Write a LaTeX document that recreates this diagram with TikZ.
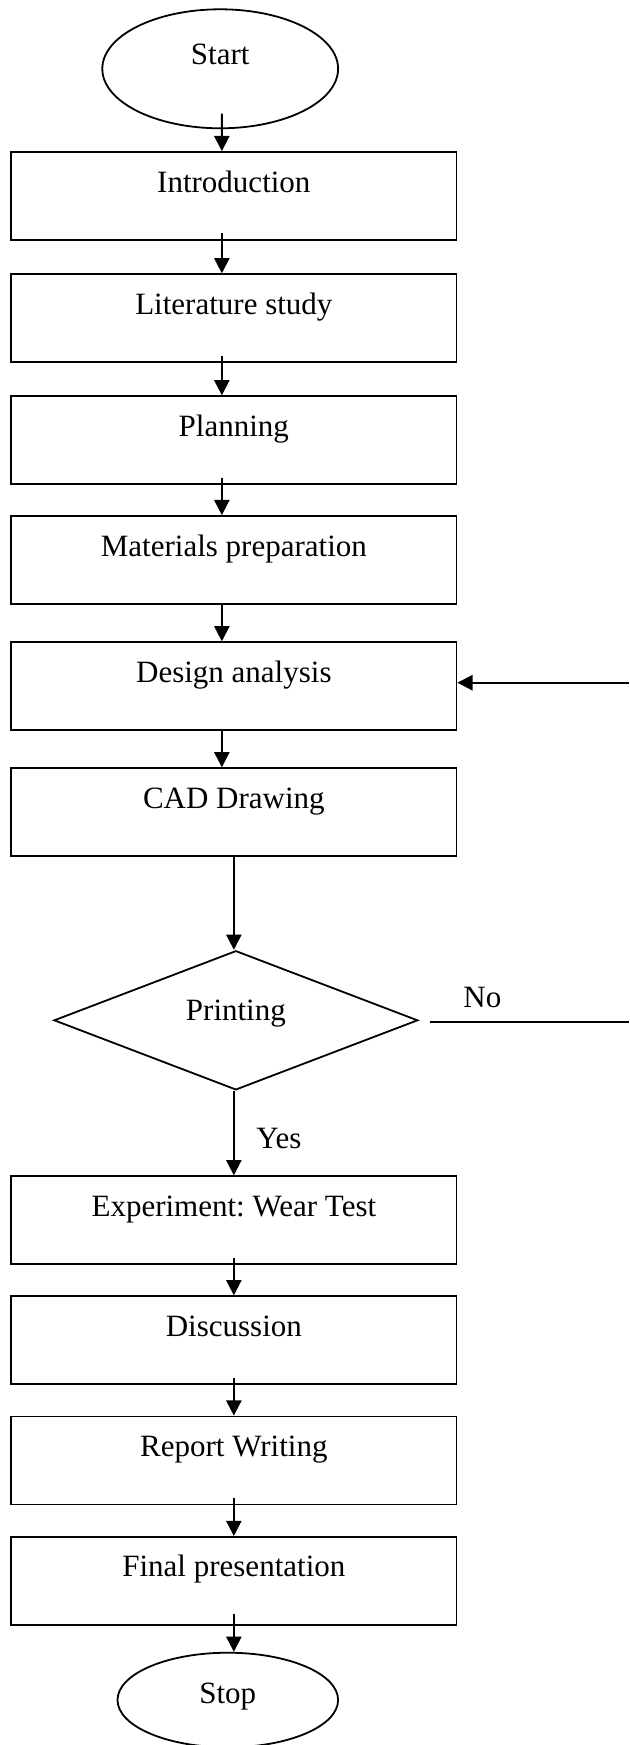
\documentclass[tikz,border=0pt]{standalone}
\usepackage{fontspec}
\setmainfont{Liberation Serif}
\usetikzlibrary{shapes.geometric,arrows.meta}
\frenchspacing

\tikzset{
  stepbox/.style={draw,line width=0.9pt,minimum width=222.6pt,minimum height=44pt,
    inner sep=0pt,text height=11pt,text depth=15pt},
  endbox/.style={draw,ellipse,line width=0.9pt,inner sep=0pt,text height=11pt},
  askbox/.style={draw,diamond,aspect=2.6,line width=0.9pt,inner sep=0pt,
    minimum width=181.9pt,minimum height=69.6pt,text height=11pt,text depth=11pt},
  arr/.style={line width=1pt,-{Triangle[width=7.6pt,length=7.6pt]}},
}

\begin{document}
\begin{tikzpicture}[x=0.5pt,y=-0.5pt,font=\fontsize{15.5}{18}\selectfont]
\useasboundingbox (0,0) rectangle (629,1745);
\def\bx{233.85} % centre of the boxes
\def\ax{-6pt}   % upper arrows sit left of centre
\def\ins{3.8pt} % arrows start inside the box

% upper part
\node[endbox,minimum width=117.9pt,minimum height=59.5pt,text depth=15.8pt] (start) at (220.2,68.8) {Start};
\node[stepbox] (intro) at (\bx,196) {Introduction};
\node[stepbox] (lit) at (\bx,318.2) {Literature study};
\node[stepbox] (plan) at (\bx,440.2) {Planning};
\node[stepbox] (mat) at (\bx,560) {Materials preparation};
\node[stepbox] (design) at (\bx,686.2) {Design analysis};
\node[stepbox] (cad) at (\bx,812.2) {CAD Drawing};

\draw[arr] ([xshift=0.8pt,yshift=7.8pt]start.south) -- ([xshift=\ax]intro.north);
\draw[arr] ([xshift=\ax,yshift=\ins]intro.south) -- ([xshift=\ax]lit.north);
\draw[arr] ([xshift=\ax,yshift=\ins]lit.south) -- ([xshift=\ax]plan.north);
\draw[arr] ([xshift=\ax,yshift=\ins]plan.south) -- ([xshift=\ax]mat.north);
\draw[arr] ([xshift=\ax]mat.south) -- ([xshift=\ax]design.north);
\draw[arr] ([xshift=\ax]design.south) -- ([xshift=\ax]cad.north);

% decision
\node[askbox] (print) at (235.9,1020.3) {Printing};
\node[anchor=base] (no) at (482.4,1007.3) {No};
\node[anchor=base] (yes) at (279,1148.3) {Yes};
\coordinate (noend) at (629,1022.3);
\coordinate (back) at (629,682.7);

\draw[arr] (cad.south) -- (cad.south |- print.north);
\draw[line width=0.9pt] ([xshift=5.4pt,yshift=-1pt]print.east) -- (noend);
\draw[arr] (back) -- (back -| design.east);

% lower part
\node[stepbox] (exp) at (\bx,1220.2) {Experiment: Wear Test};
\node[stepbox] (disc) at (\bx,1340.2) {Discussion};
\node[stepbox] (rep) at (\bx,1460.5) {Report Writing};
\node[stepbox] (final) at (\bx,1580.9) {Final presentation};
\node[endbox,minimum width=110.3pt,minimum height=47.3pt,text depth=8pt] (stop) at (227.8,1700) {Stop};

\draw[arr] (print.south -| exp.south) -- (exp.north);
\draw[arr] ([yshift=\ins]exp.south) -- (disc.north);
\draw[arr] ([yshift=\ins]disc.south) -- (rep.north);
\draw[arr] ([yshift=\ins]rep.south) -- (final.north);
\draw[arr] ([yshift=5.8pt]final.south) -- (final.south |- stop.north);
\end{tikzpicture}
\end{document}
